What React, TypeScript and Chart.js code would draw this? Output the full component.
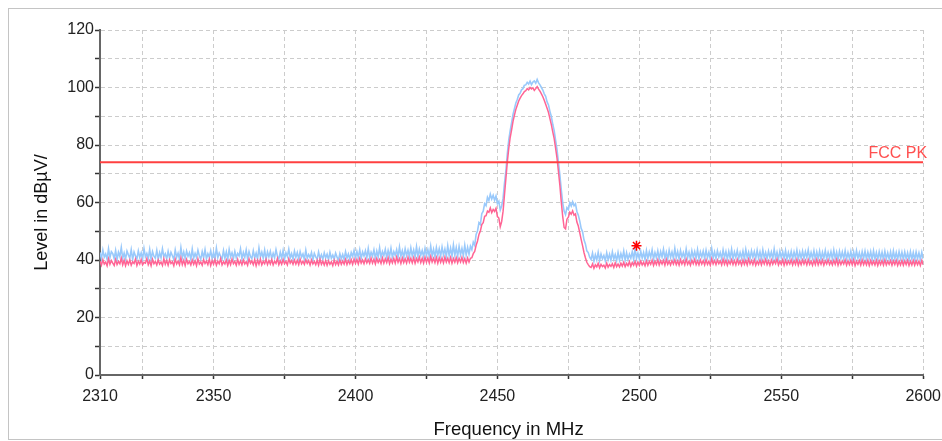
import React, { useEffect, useRef } from "react";
import { Chart, registerables } from "chart.js";

Chart.register(...registerables);

// Sweep step in MHz; each segment carries its own start frequency
const FREQ_STEP = 0.5;

// ---- Light blue trace (dBµV) ----
const BLUE_A_START = 2310;
const BLUE_A = [
  42.6, 40.4, 43.5, 41.0, 42.1, 40.2, 43.9, 40.8, 42.9, 42.2, 40.5, 43.3, 40.1, 42.7, 41.2, 44.4, 40.6, 42.4, 40.3, 43.1,
  41.8, 40.7, 43.6, 40.2, 42.8, 41.4, 40.4, 43.2, 40.9, 42.5, 40.3, 44.0, 41.1, 42.3, 40.5, 43.7, 40.2, 42.9, 41.3, 40.6,
  43.4, 40.3, 42.6, 40.8, 43.9, 41.2, 42.2, 40.4, 43.0, 40.7, 42.7, 41.5, 40.2, 43.5, 40.9, 42.4, 40.3, 44.3, 40.8, 42.8,
  40.5, 43.1, 41.3, 42.5, 40.2, 43.8, 40.6, 42.3, 40.9, 43.4, 41.4, 40.3, 42.9, 40.7, 43.6, 40.4, 42.2, 41.0, 43.2, 40.5,
  42.7, 40.3, 44.1, 40.8, 42.4, 41.3, 40.4, 43.3, 40.6, 42.8, 40.2, 43.7, 41.1, 42.5, 40.5, 43.0, 40.8, 42.3, 41.4, 43.9,
  40.4, 42.6, 40.9, 43.5, 40.3, 42.9, 41.2, 40.5, 43.2, 40.7, 42.4, 40.3, 44.2, 41.0, 42.7, 40.6, 43.4, 40.2, 42.8, 41.1,
  43.0, 40.5, 42.3, 40.8, 43.6, 41.3, 40.4, 42.7, 40.6, 43.3, 40.2, 42.5, 41.2, 43.8, 40.7, 42.2, 40.3, 43.1, 40.9, 42.6,
  40.4, 42.9, 41.0, 42.1, 40.2, 43.4, 40.6, 41.9, 40.8, 42.6, 40.1, 42.3, 41.1, 40.3, 42.8, 40.5, 41.8, 40.2, 42.5, 40.7,
  42.0, 40.1, 42.7, 40.6, 41.7, 40.3, 42.4, 41.0, 39.9, 42.2, 40.4, 41.9, 40.2, 42.9, 40.7, 42.1, 40.3, 42.6, 41.2, 43.3,
  40.6, 42.9, 40.9, 43.6, 40.5, 42.8, 41.4, 43.2, 40.7, 44.0, 40.8, 42.7, 41.3, 43.5, 40.6, 43.1, 41.0, 44.3, 40.9, 42.9,
  41.5, 43.7, 40.8, 43.3, 41.2, 44.1, 40.9, 42.9, 41.6, 43.6, 41.0, 44.5, 41.3, 43.2, 40.9, 43.9, 41.5, 43.4, 41.1, 44.2,
  41.4, 43.5, 41.0, 44.6, 41.2, 43.8, 41.6, 43.3, 41.1, 44.0, 41.5, 43.6, 41.2, 44.8, 41.4, 43.7, 41.0, 44.3, 41.6, 43.9,
  41.3, 44.5, 41.7, 43.8, 41.2, 44.9, 41.5, 44.1, 41.4, 45.2, 41.6, 44.3, 41.3, 44.7, 41.8, 44.0, 41.5, 45.1, 41.7, 44.4,
  42.0, 44.8,
];
const BLUE_B_START = 2441;
const BLUE_B = [
  43.6, 46.2, 45.1, 48.9, 50.2, 53.0, 52.4, 56.1, 57.0, 59.6,
  58.9, 61.8, 60.7, 62.9, 61.2, 62.5, 60.8, 62.3, 59.6, 60.4,
  57.4, 58.8, 61.5, 66.8, 71.2, 77.0, 81.8, 85.0, 87.8, 90.6,
  92.6, 94.6, 95.8, 97.4, 98.0, 99.2, 99.6, 100.8, 100.9, 101.8,
  101.2, 102.2, 101.0, 101.9, 102.3, 101.5, 102.8, 101.6, 100.9, 100.0,
  99.1, 97.8, 96.9, 95.0, 93.9, 91.7, 89.9, 87.2, 85.0, 81.6,
  78.4, 74.0, 69.6, 64.5, 59.9, 57.0, 55.8, 58.2, 57.6, 59.9,
  58.8, 60.3, 58.9, 59.6, 56.9, 55.6, 53.6, 51.0, 49.8, 47.0,
  45.6, 43.2, 42.6, 41.0,
];
const BLUE_C_START = 2483;
const BLUE_C = [
  40.2, 42.4, 39.6, 41.8, 40.0, 42.7, 39.8, 42.1, 40.4, 41.6, 39.7, 42.5, 40.1, 42.0, 39.9, 42.8, 40.3, 41.9, 39.8, 42.6,
  40.0, 42.2, 40.4, 43.1, 39.9, 42.5, 40.2, 42.0, 40.6, 42.9, 40.1, 44.2, 40.5, 42.4, 40.3, 43.0, 40.7, 42.6, 40.2, 43.3,
  40.5, 42.8, 40.9, 43.5, 40.3, 42.6, 40.8, 43.2, 40.4, 42.9, 41.0, 43.7, 40.6, 42.7, 40.3, 43.4, 40.9, 42.8, 40.5, 44.0,
  40.7, 42.9, 40.4, 43.3, 41.0, 42.6, 40.5, 43.8, 40.8, 42.7, 40.3, 43.2, 40.9, 42.9, 40.6, 43.6, 40.4, 42.8, 41.0, 43.1,
  40.5, 43.4, 40.8, 42.7, 40.3, 43.9, 40.7, 42.8, 40.5, 43.2, 41.0, 42.6, 40.4, 43.5, 40.8, 42.9, 40.3, 43.0, 40.6, 43.7,
  40.4, 42.8, 40.9, 43.3, 40.5, 42.6, 40.7, 43.1, 40.2, 43.6, 40.8, 42.7, 40.5, 43.2, 40.9, 42.9, 40.4, 43.4, 40.6, 42.8,
  40.3, 43.5, 40.7, 42.6, 40.5, 43.1, 40.9, 42.8, 40.4, 43.8, 40.6, 42.7, 40.3, 43.0, 40.8, 42.9, 40.5, 43.3, 40.2, 42.6,
  40.6, 43.0, 40.4, 42.8, 40.7, 43.4, 40.3, 42.7, 40.6, 43.1, 40.5, 42.9, 40.8, 43.5, 40.4, 42.6, 40.6, 43.2, 40.3, 42.8,
  40.5, 43.1, 40.2, 42.7, 40.6, 43.3, 40.4, 42.6, 40.7, 42.9, 40.3, 43.4, 40.5, 42.7, 40.2, 43.0, 40.6, 42.8, 40.4, 43.2,
  40.3, 42.6, 40.5, 43.0, 40.1, 42.8, 40.4, 43.3, 40.6, 42.5, 40.2, 42.9, 40.5, 43.1, 40.3, 42.7, 40.6, 42.9, 40.1, 43.2,
  40.4, 42.6, 40.2, 42.9, 40.5, 42.7, 40.1, 43.0, 40.4, 42.5, 40.3, 42.8, 40.0, 43.1, 40.4, 42.6, 40.2, 42.9, 40.5, 42.7,
  40.2, 42.8, 40.4, 42.5, 40.1, 42.9, 40.3, 42.6, 40.0, 42.8, 40.4, 42.5, 40.2, 42.7, 40.3,
];

// ---- Pink trace (dBµV) ----
const PINK_A_START = 2310;
const PINK_A = [
  39.6, 38.2, 40.1, 38.6, 39.3, 38.0, 40.4, 38.5, 39.8, 38.9, 38.1, 40.2, 38.4, 39.5, 38.7, 40.6, 38.3, 39.9, 38.0, 39.7,
  38.5, 40.0, 38.2, 39.4, 38.8, 40.3, 38.1, 39.6, 38.6, 40.1, 38.3, 39.2, 38.9, 40.5, 38.4, 39.7, 38.0, 40.2, 38.7, 39.5,
  38.3, 40.0, 38.6, 39.3, 38.1, 40.4, 38.5, 39.8, 38.2, 40.1, 38.8, 39.4, 38.0, 40.3, 38.6, 39.6, 38.3, 40.7, 38.4, 39.9,
  38.1, 40.2, 38.7, 39.5, 38.3, 40.0, 38.5, 39.7, 38.0, 40.4, 38.6, 39.3, 38.2, 40.1, 38.8, 39.6, 38.4, 40.3, 38.1, 39.8,
  38.5, 40.1, 38.2, 39.6, 38.7, 40.5, 38.3, 39.4, 38.6, 40.0, 38.1, 39.8, 38.4, 40.3, 38.7, 39.5, 38.2, 40.2, 38.5, 39.7,
  38.3, 40.0, 38.6, 39.4, 38.2, 40.4, 38.8, 39.7, 38.4, 40.1, 38.0, 39.9, 38.5, 40.3, 38.3, 39.5, 38.7, 40.2, 38.4, 39.8,
  38.6, 40.1, 38.3, 39.6, 38.8, 40.5, 38.4, 39.7, 38.5, 40.2, 38.7, 39.5, 38.3, 40.4, 38.9, 39.8, 38.5, 40.0, 38.6, 39.9,
  38.4, 40.3, 38.7, 39.6, 38.5, 40.1, 38.8, 39.8, 38.3, 40.0, 38.6, 39.5, 38.4, 39.9, 38.2, 40.2, 38.5, 39.6, 38.3, 39.8,
  38.2, 39.7, 38.5, 39.4, 38.1, 39.9, 38.4, 39.6, 38.3, 40.0, 38.5, 39.7, 38.6, 40.2, 38.4, 39.8, 38.7, 40.1, 38.5, 40.3,
  38.8, 40.2, 38.6, 40.5, 38.9, 40.0, 38.7, 40.4, 39.0, 40.1, 38.8, 40.6, 38.9, 40.3, 38.6, 40.5, 39.1, 40.2, 38.8, 40.7,
  38.9, 40.4, 39.1, 40.8, 38.7, 40.3, 39.0, 40.6, 38.9, 41.0, 39.2, 40.5, 38.8, 40.7, 39.1, 40.4, 38.9, 40.9, 39.2, 40.6,
  39.0, 40.8, 38.9, 40.5, 39.3, 41.0, 39.1, 40.6, 38.9, 40.9, 39.2, 40.7, 39.0, 41.2, 39.3, 40.6, 39.1, 40.9, 38.9, 40.8,
  39.2, 40.7, 39.0, 41.0, 39.3, 40.6, 39.1, 40.9, 38.9, 40.5, 39.2, 40.8, 39.0, 40.6, 39.3, 40.9, 39.1, 40.5, 38.9, 40.7,
  39.3, 40.6,
];
const PINK_B_START = 2441;
const PINK_B = [
  40.8, 42.2, 43.0, 45.1, 46.6, 48.9, 50.1, 52.3, 53.0, 55.2,
  55.4, 57.0, 56.6, 58.1, 56.5, 57.6, 56.9, 58.0, 55.1, 54.6,
  51.6, 53.4, 57.0, 62.8, 68.5, 74.2, 78.8, 82.6, 85.3, 88.2,
  90.4, 92.4, 93.8, 95.3, 96.3, 97.2, 97.8, 98.6, 98.9, 99.6,
  99.2, 100.0, 99.5, 99.9, 99.0, 99.6, 100.3, 99.4, 98.7, 97.8,
  96.8, 95.6, 94.2, 92.8, 91.3, 89.2, 87.1, 84.6, 82.2, 78.9,
  75.4, 70.8, 66.0, 60.2, 55.2, 51.3, 50.8, 54.2, 54.9, 56.6,
  55.9, 57.1, 55.6, 56.0, 53.2, 51.8, 49.5, 47.2, 45.0, 42.6,
  40.8, 39.2, 38.4, 37.7,
];
const PINK_C_START = 2483;
const PINK_C = [
  37.4, 38.6, 37.1, 38.3, 37.6, 38.8, 37.3, 38.5, 37.7, 38.2, 37.2, 38.9, 37.5, 38.4, 37.8, 38.7, 37.4, 39.0, 37.7, 38.6,
  37.6, 38.9, 37.9, 39.2, 37.7, 38.8, 38.0, 39.4, 37.8, 39.1, 38.2, 39.5, 37.9, 39.3, 38.1, 39.6, 38.3, 39.2, 38.0, 39.7,
  38.2, 39.5, 38.5, 39.9, 38.1, 39.6, 38.4, 40.1, 38.3, 39.7, 38.6, 39.9, 38.2, 40.2, 38.5, 39.6, 38.3, 39.8, 38.6, 40.0,
  38.4, 39.7, 38.2, 40.1, 38.6, 39.8, 38.3, 40.3, 38.5, 39.6, 38.2, 39.9, 38.7, 40.2, 38.4, 39.7, 38.3, 40.0, 38.6, 39.8,
  38.3, 40.1, 38.5, 39.6, 38.2, 40.4, 38.6, 39.8, 38.4, 40.0, 38.7, 39.7, 38.3, 40.2, 38.5, 39.9, 38.2, 39.7, 38.6, 40.1,
  38.4, 39.8, 38.3, 40.2, 38.6, 39.7, 38.2, 40.0, 38.5, 39.9, 38.3, 40.3, 38.6, 39.8, 38.4, 40.1, 38.2, 39.6, 38.5, 40.0,
  38.3, 39.9, 38.6, 40.2, 38.4, 39.7, 38.2, 40.0, 38.5, 39.8, 38.7, 40.3, 38.3, 39.6, 38.5, 40.1, 38.2, 39.9, 38.4, 39.7,
  38.6, 40.0, 38.3, 39.8, 38.5, 40.2, 38.2, 39.7, 38.4, 40.0, 38.6, 39.9, 38.3, 40.1, 38.5, 39.6, 38.2, 39.9, 38.4, 40.2,
  38.3, 39.8, 38.5, 40.0, 38.2, 39.7, 38.6, 40.1, 38.4, 39.6, 38.3, 39.9, 38.5, 40.2, 38.2, 39.8, 38.4, 39.7, 38.6, 40.0,
  38.2, 39.7, 38.4, 39.9, 38.3, 40.1, 38.1, 39.6, 38.5, 39.8, 38.2, 40.0, 38.4, 39.7, 38.3, 39.9, 38.1, 39.8, 38.4, 39.6,
  38.3, 39.9, 38.1, 39.7, 38.4, 39.8, 38.2, 40.0, 38.3, 39.6, 38.5, 39.8, 38.2, 39.7, 38.4, 39.9, 38.1, 39.6, 38.3, 39.8,
  38.2, 39.7, 38.4, 39.9, 38.1, 39.6, 38.3, 39.8, 38.2, 39.7, 38.4, 39.6, 38.1, 39.8, 38.3,
];

// ---- Limit line ----
const LIMIT_NAME = "FCC PK";
const LIMIT_LEVEL = 74;
const LIMIT_SPAN = [2310, 2600];

// ---- Marker ----
const MARKER_FREQ = 2499;
const MARKER_LEVEL = 45;

// ---- Axes ----
const X_MIN = 2310;
const X_MAX = 2600;
const X_TICKS = [2310, 2325, 2350, 2375, 2400, 2425, 2450, 2475, 2500, 2525, 2550, 2575, 2600];
const X_LABELED = [2310, 2350, 2400, 2450, 2500, 2550, 2600];
const Y_MIN = 0;
const Y_MAX = 120;
const Y_STEP = 10;
const Y_LABELED = [0, 20, 40, 60, 80, 100, 120];
const X_TITLE = "Frequency in MHz";
const Y_TITLE = "Level in dBµV/";

const FONT = "'Liberation Sans', Arial, sans-serif";

const seg = (start: number, arr: number[]) =>
  arr.map((v, i) => ({ x: start + i * FREQ_STEP, y: v }));

const BLUE_POINTS = [
  ...seg(BLUE_A_START, BLUE_A),
  ...seg(BLUE_B_START, BLUE_B),
  ...seg(BLUE_C_START, BLUE_C),
];
const PINK_POINTS = [
  ...seg(PINK_A_START, PINK_A),
  ...seg(PINK_B_START, PINK_B),
  ...seg(PINK_C_START, PINK_C),
];

// Limit label and axis titles, placed relative to the chart's own scales
const annotationsPlugin = {
  id: "annotations",
  afterDraw(chart: any) {
    const { ctx, chartArea, scales } = chart;
    const y = scales.y.getPixelForValue(LIMIT_LEVEL);
    ctx.save();
    ctx.font = `16px ${FONT}`;
    ctx.fillStyle = "#ff5050";
    ctx.textAlign = "right";
    ctx.textBaseline = "alphabetic";
    ctx.fillText(LIMIT_NAME, chartArea.right + 4, y - 4);

    ctx.fillStyle = "#111";
    ctx.font = `18.5px ${FONT}`;
    ctx.textAlign = "center";
    ctx.textBaseline = "middle";
    const midX = (chartArea.left + chartArea.right) / 2 - 3;
    ctx.fillText(X_TITLE, midX, chartArea.bottom + 55);

    ctx.translate(chartArea.left - 58, (chartArea.top + chartArea.bottom) / 2 + 10);
    ctx.rotate(-Math.PI / 2);
    ctx.font = `18px ${FONT}`;
    ctx.fillText(Y_TITLE, 0, 0);
    ctx.restore();
  },
};

export default function App() {
  const canvasRef = useRef<HTMLCanvasElement | null>(null);

  useEffect(() => {
    document.documentElement.style.overflow = "hidden";
    if (!canvasRef.current) return;
    const chart = new Chart(canvasRef.current, {
      type: "line",
      data: {
        datasets: [
          {
            label: LIMIT_NAME,
            data: LIMIT_SPAN.map((f) => ({ x: f, y: LIMIT_LEVEL })),
            borderColor: "#ff4040",
            borderWidth: 2,
            pointRadius: 0,
            order: 0,
          },
          {
            type: "scatter",
            label: "Marker",
            data: [{ x: MARKER_FREQ, y: MARKER_LEVEL }],
            pointStyle: "star",
            pointRadius: 5,
            borderColor: "#ff0000",
            backgroundColor: "#ff0000",
            borderWidth: 1.5,
            order: 0,
          },
          {
            label: "Pink",
            data: PINK_POINTS,
            borderColor: "#ff6494",
            borderWidth: 1.5,
            pointRadius: 0,
            tension: 0,
            order: 1,
          },
          {
            label: "Blue",
            data: BLUE_POINTS,
            borderColor: "#99c9fb",
            borderWidth: 1.6,
            pointRadius: 0,
            tension: 0,
            order: 2,
          },
        ],
      } as any,
      options: {
        animation: false,
        responsive: false,
        events: [],
        layout: { padding: { top: 21, right: 0, bottom: 0, left: 0 } },
        plugins: { legend: { display: false }, tooltip: { enabled: false } },
        scales: {
          x: {
            type: "linear",
            min: X_MIN,
            max: X_MAX,
            afterBuildTicks: (scale: any) => {
              scale.ticks = X_TICKS.map((v) => ({ value: v }));
            },
            afterFit: (scale: any) => {
              scale.height = 64;
            },
            ticks: {
              autoSkip: false,
              maxRotation: 0,
              padding: 8,
              color: "#222",
              font: { family: FONT, size: 16 },
              callback: (v: any) => (X_LABELED.includes(Number(v)) ? String(v) : ""),
            },
            grid: {
              color: "#cccccc",
              lineWidth: 1,
              tickColor: "#333",
              tickLength: 4,
              tickWidth: 1.5,
            },
            border: { color: "#666", width: 2, dash: [4, 3] },
            title: { display: false },
          },
          y: {
            min: Y_MIN,
            max: Y_MAX,
            afterFit: (scale: any) => {
              scale.width = 91;
            },
            ticks: {
              stepSize: Y_STEP,
              padding: 1,
              color: "#222",
              font: { family: FONT, size: 16 },
              callback: (v: any) => (Y_LABELED.includes(Number(v)) ? String(v) : ""),
            },
            grid: {
              color: "#cccccc",
              lineWidth: 1,
              tickColor: "#333",
              tickLength: 5,
              tickWidth: 1.5,
            },
            border: { color: "#666", width: 2, dash: [4, 3] },
            title: { display: false },
          },
        },
      },
      plugins: [annotationsPlugin],
    });
    return () => chart.destroy();
  }, []);

  return (
    <div
      style={{
        position: "fixed",
        left: 8,
        top: 8,
        width: 940,
        height: 430,
        border: "1px solid #c4c4c4",
        background: "#fff",
      }}
    >
      <canvas ref={canvasRef} width={940} height={430} style={{ display: "block" }} />
    </div>
  );
}
